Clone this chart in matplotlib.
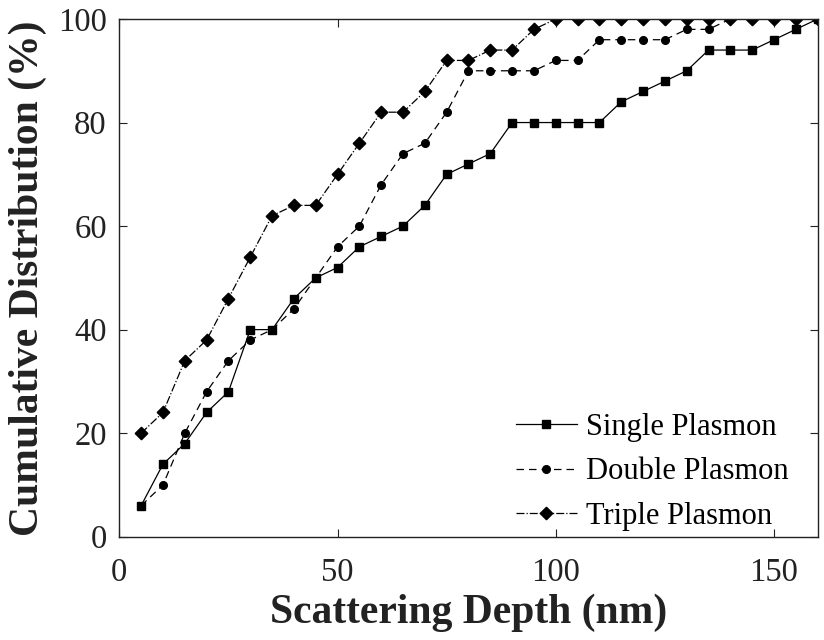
import matplotlib
matplotlib.use("Agg")
import matplotlib.pyplot as plt

plt.rcParams['font.family'] = ['Liberation Serif', 'DejaVu Serif']
plt.rcParams['mathtext.fontset'] = 'stix'

# scattering depth (nm)
depth = [5, 10, 15, 20, 25, 30, 35, 40, 45, 50, 55, 60, 65, 70, 75, 80,
         85, 90, 95, 100, 105, 110, 115, 120, 125, 130, 135, 140, 145, 150, 155, 160]

single = [6, 14, 18, 24, 28, 40, 40, 46, 50, 52, 56, 58, 60, 64, 70, 72,
          74, 80, 80, 80, 80, 80, 84, 86, 88, 90, 94, 94, 94, 96, 98, 100]
double = [6, 10, 20, 28, 34, 38, 40, 44, 50, 56, 60, 68, 74, 76, 82, 90,
          90, 90, 90, 92, 92, 96, 96, 96, 96, 98, 98, 100, 100, 100, 100, 100]
triple = [20, 24, 34, 38, 46, 54, 62, 64, 64, 70, 76, 82, 82, 86, 92, 92,
          94, 94, 98, 100, 100, 100, 100, 100, 100, 100, 100, 100, 100, 100, 100, 100]

fig = plt.figure(figsize=(8.24, 6.4), dpi=100)
ax = fig.add_axes([0.1448, 0.1614, 0.8475, 0.8089])

ax.plot(depth, single, 'k-', marker='s', ms=6, lw=0.9, label='Single Plasmon')
ax.plot(depth, double, 'k--', marker='o', ms=5.5, lw=0.9, dashes=(6, 4), label='Double Plasmon')
ax.plot(depth, triple, 'k-.', marker=(4, 0, 0), ms=9, lw=0.9, label='Triple Plasmon')

ax.set_xlim(0, 160)
ax.set_ylim(0, 100)
ax.set_xticks([0, 50, 100, 150])
ax.set_yticks([0, 20, 40, 60, 80, 100])
ax.tick_params(direction='in', length=6, width=0.8, top=True, right=True,
               labelsize=23.5, colors='#222222')
ax.tick_params(axis='x', pad=15)
ax.tick_params(axis='y', pad=9)
for s in ax.spines.values():
    s.set_linewidth(1.0)
    s.set_color('#222222')

ax.set_xlabel('Scattering Depth (nm)', fontsize=30, fontweight='bold', labelpad=4, color='#222222')
ax.set_ylabel('Cumulative Distribution (%)', fontsize=30, fontweight='bold', labelpad=8, color='#222222')

ax.legend(loc='lower right', frameon=False, fontsize=22, handlelength=2.0,
          handletextpad=0.3, labelspacing=0.5, borderaxespad=0.1,
          bbox_to_anchor=(0.98, -0.018))

fig.savefig('out.png', dpi=100)
